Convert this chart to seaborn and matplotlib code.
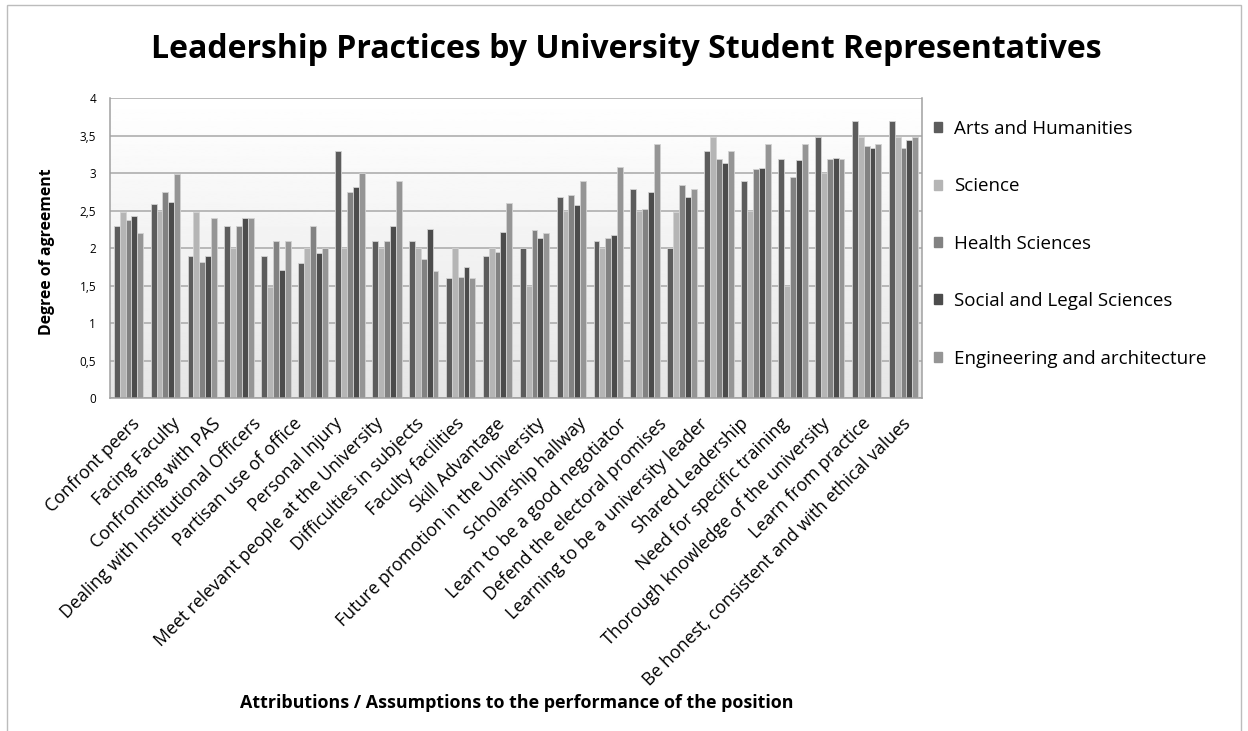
import numpy as np
import pandas as pd
import matplotlib
matplotlib.use("Agg")
import matplotlib.pyplot as plt
from matplotlib.patches import Patch, Rectangle
import seaborn as sns

# ---------------- data ----------------
labels = [
    "Confront peers", "Facing Faculty", "Confronting with PAS",
    "Dealing with Institutional Officers", "Partisan use of office",
    "Personal Injury", "Meet relevant people at the University",
    "Difficulties in subjects", "Faculty facilities", "Skill Advantage",
    "Future promotion in the University", "Scholarship hallway",
    "Learn to be a good negotiator", "Defend the electoral promises",
    "Learning to be a university leader", "Shared Leadership",
    "Need for specific training", "Thorough knowledge of the university",
    "Learn from practice", "Be honest, consistent and with ethical values",
]
# the original chart draws 22 bar groups under its 20 category labels
groups = [str(i + 1) for i in range(22)]

series_names = ["Arts and Humanities", "Science", "Health Sciences",
                "Social and Legal Sciences", "Engineering and architecture"]

arts = [2.29, 2.59, 1.90, 2.29, 1.90, 1.80, 3.29, 2.10, 2.10, 1.60, 1.90,
        2.00, 2.68, 2.10, 2.79, 2.00, 3.29, 2.89, 3.19, 3.48, 3.69, 3.69]
science = [2.48, 2.50, 2.48, 2.00, 1.48, 2.00, 2.00, 2.00, 2.00, 2.00, 2.00,
           1.50, 2.50, 2.00, 2.50, 2.48, 3.48, 2.50, 1.50, 3.00, 3.48, 3.48]
health = [2.37, 2.75, 1.82, 2.29, 2.10, 2.29, 2.75, 2.10, 1.86, 1.62, 1.95,
          2.24, 2.71, 2.14, 2.52, 2.84, 3.19, 3.05, 2.95, 3.19, 3.36, 3.33]
social = [2.43, 2.61, 1.90, 2.40, 1.71, 1.94, 2.81, 2.29, 2.25, 1.75, 2.22,
          2.14, 2.57, 2.17, 2.75, 2.68, 3.13, 3.07, 3.17, 3.20, 3.34, 3.44]
engineering = [2.20, 2.99, 2.40, 2.40, 2.10, 2.00, 3.00, 2.90, 1.69, 1.60, 2.60,
               2.20, 2.90, 3.08, 3.39, 2.79, 3.29, 3.39, 3.39, 3.19, 3.39, 3.48]

yticks = [0, 0.5, 1, 1.5, 2, 2.5, 3, 3.5, 4]
ytick_labels = ["0", "0,5", "1", "1,5", "2", "2,5", "3", "3,5", "4"]

colors = ["#5c5c5c", "#b5b5b5", "#828282", "#4c4c4c", "#959595"]

# ---------------- frame ----------------
rows = []
for name, vals in zip(series_names, [arts, science, health, social, engineering]):
    for g, v in zip(groups, vals):
        rows.append({"group": g, "series": name, "value": v})
df = pd.DataFrame(rows)

plt.rcParams["font.family"] = ["Open Sans", "DejaVu Sans"]

W, H = 1248, 731
fig = plt.figure(figsize=(W / 100, H / 100), dpi=100)
ax = fig.add_axes([110 / W, 1 - 398 / H, 812 / W, 300 / H])

# gradient plot background
grad = np.linspace(0.90, 1.0, 256).reshape(-1, 1)
ax.imshow(grad, extent=[0, 1, 1, 0], transform=ax.transAxes, aspect="auto",
          cmap="gray", vmin=0, vmax=1, zorder=0)

sns.barplot(data=df, x="group", y="value", hue="series", palette=colors,
            hue_order=series_names, order=groups, width=0.8, saturation=1,
            edgecolor="#d2d2d2", linewidth=0.6, legend=False, ax=ax, zorder=2)

ax.set_xlim(-0.5, len(groups) - 0.5)
ax.set_ylim(0, 4)
ax.set_yticks(yticks)
ax.set_yticklabels(ytick_labels, fontsize=8.5)
ax.set_xticks([])
ax.set_xlabel("")
ax.set_ylabel("")
ax.grid(axis="y", color="#a8a8a8", linewidth=1.1, zorder=1)
ax.set_axisbelow(True)
ax.tick_params(axis="y", length=0, pad=10)
for s in ["left", "bottom", "right"]:
    ax.spines[s].set_color("#a0a0a0")
    ax.spines[s].set_linewidth(1.1)
ax.spines["top"].set_visible(False)

# category labels (20) on a twin axis
ax2 = ax.twiny()
ax2.set_xlim(-0.5, len(labels) - 0.5)
ax2.set_xticks(range(len(labels)))
ax2.set_xticklabels(labels, rotation=45, ha="right", rotation_mode="anchor",
                    fontsize=12.8)
ax2.xaxis.set_ticks_position("bottom")
ax2.xaxis.set_label_position("bottom")
ax2.tick_params(axis="x", length=0, pad=12, bottom=True, top=False,
                labelbottom=True, labeltop=False)
for s in ax2.spines.values():
    s.set_visible(False)

# texts
fig.text(626 / W, 1 - 50 / H,
         "Leadership Practices by University Student Representatives",
         ha="center", va="center", fontsize=23, fontweight="bold")
fig.text(47 / W, 1 - 252 / H, "Degree of agreement", rotation=90,
         ha="center", va="center", fontsize=11.4, fontweight="bold")
fig.text(517 / W, 1 - 703 / H,
         "Attributions / Assumptions to the performance of the position",
         ha="center", va="center", fontsize=12.9, fontweight="bold")

handles = [Patch(facecolor=c, edgecolor=c) for c in colors]
fig.legend(handles, series_names, loc="upper left",
           bbox_to_anchor=(934 / W, 1 - 120 / H), frameon=False, fontsize=13.5,
           handlelength=0.45, handleheight=0.45, handletextpad=0.6,
           labelspacing=2.1, borderaxespad=0, borderpad=0)

fig.patches.append(Rectangle((7 / W, -0.02), (1241 - 7) / W, 1.02 - 5 / H,
                             transform=fig.transFigure, fill=False,
                             edgecolor="#bcbcbc", linewidth=1))

fig.savefig("out.png", dpi=100)
